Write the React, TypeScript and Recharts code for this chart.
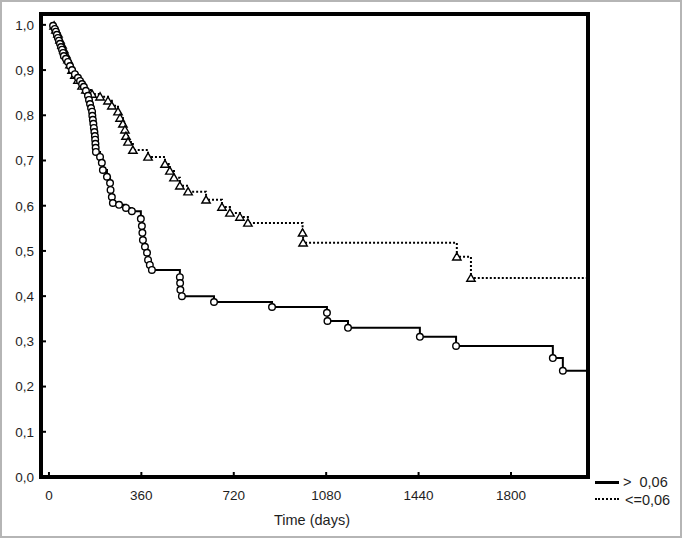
import React from 'react';
import { ComposedChart, Line, XAxis, YAxis, ReferenceArea } from 'recharts';

// group "> 0,06" (solid line, circles)
const highDays = [16, 23, 27, 31, 35, 39, 43, 47, 51, 55, 58, 66, 74, 82, 90, 101, 113, 121, 129, 136, 144, 152, 156, 160, 164, 168, 169, 171, 173, 175, 177, 179, 180, 181, 182, 183, 199, 206, 210, 226, 238, 240, 245, 249, 273, 300, 323, 358, 362, 364, 366, 374, 382, 386, 393, 401, 510, 511, 512, 518, 643, 869, 1083, 1085, 1165, 1445, 1586, 1963, 2002, 2100];
const highSurv = [0.998, 0.991, 0.985, 0.978, 0.971, 0.965, 0.958, 0.951, 0.945, 0.938, 0.931, 0.925, 0.918, 0.909, 0.9, 0.891, 0.883, 0.876, 0.869, 0.863, 0.854, 0.843, 0.834, 0.825, 0.816, 0.808, 0.799, 0.79, 0.781, 0.772, 0.763, 0.754, 0.746, 0.737, 0.728, 0.719, 0.708, 0.695, 0.679, 0.664, 0.65, 0.635, 0.619, 0.606, 0.602, 0.595, 0.588, 0.571, 0.555, 0.54, 0.524, 0.509, 0.496, 0.48, 0.469, 0.458, 0.442, 0.429, 0.414, 0.4, 0.387, 0.376, 0.363, 0.345, 0.33, 0.31, 0.29, 0.263, 0.235, 0.235];

// group "<=0,06" (dotted line, triangles)
const lowDays = [20, 27, 35, 43, 51, 58, 66, 74, 82, 90, 101, 113, 129, 144, 168, 199, 230, 245, 269, 277, 288, 296, 300, 308, 327, 386, 452, 471, 487, 510, 542, 612, 674, 705, 744, 775, 988, 990, 1589, 1644, 2100];
const lowSurv = [0.998, 0.989, 0.98, 0.967, 0.956, 0.945, 0.934, 0.923, 0.912, 0.9, 0.889, 0.878, 0.865, 0.856, 0.847, 0.841, 0.832, 0.821, 0.808, 0.794, 0.781, 0.768, 0.754, 0.741, 0.723, 0.708, 0.692, 0.677, 0.662, 0.644, 0.631, 0.613, 0.597, 0.584, 0.575, 0.562, 0.54, 0.518, 0.487, 0.44, 0.44];

const xTicks = [0, 360, 720, 1080, 1440, 1800];
const yTicks = [0, 0.1, 0.2, 0.3, 0.4, 0.5, 0.6, 0.7, 0.8, 0.9, 1.0];

const highData = highDays.map((d, i) => ({ day: d, s: highSurv[i] }));
const lowData = lowDays.map((d, i) => ({ day: d, s: lowSurv[i] }));

const font = '"Liberation Sans", Arial, sans-serif';
const ink = '#1e1e1e';

const fmtY = (v: number) => v.toFixed(1).replace('.', ',');

const YTick = (props: any) => {
  const { x, y, payload } = props;
  return (
    <g>
      <line x1={x + 9} y1={y} x2={x + 12} y2={y} stroke="#000" strokeWidth={2} />
      <text x={x} y={y} dy="0.36em" textAnchor="end" fontSize={13.5} fontFamily={font} fill={ink}>
        {fmtY(payload.value)}
      </text>
    </g>
  );
};

const XTick = (props: any) => {
  const { x, y, payload } = props;
  return (
    <g>
      <line x1={x} y1={y - 2} x2={x} y2={y - 5} stroke="#000" strokeWidth={2} />
      <text x={x} y={y + 23} textAnchor="middle" fontSize={13.5} fontFamily={font} fill={ink}>
        {payload.value}
      </text>
    </g>
  );
};

const CircleMark = (props: any) => {
  const { cx, cy, index } = props;
  if (cx == null || index === highData.length - 1) return <g key={`c${index}`} />;
  return <circle key={`c${index}`} cx={cx} cy={cy} r={3.3} fill="#fff" stroke="#000" strokeWidth={1.4} />;
};

const TriangleMark = (props: any) => {
  const { cx, cy, index } = props;
  if (cx == null || index === lowData.length - 1) return <g key={`t${index}`} />;
  const pts = `${cx},${cy - 4} ${cx - 4.2},${cy + 3.2} ${cx + 4.2},${cy + 3.2}`;
  return <polygon key={`t${index}`} points={pts} fill="#fff" stroke="#000" strokeWidth={1.4} />;
};

export default function App() {
  return (
    <div style={{ position: 'absolute', left: 0, top: 0, width: 682, height: 538, background: '#fff' }}>
      <ComposedChart width={682} height={538} margin={{ top: 14, right: 94, bottom: 31, left: 0 }}>
        <XAxis
          dataKey="day"
          type="number"
          domain={[-31, 2100]}
          ticks={xTicks}
          allowDataOverflow
          axisLine={false}
          tickLine={false}
          tickSize={0}
          tickMargin={0}
          height={30}
          tick={<XTick />}
        />
        <YAxis
          type="number"
          domain={[0, 1.024]}
          ticks={yTicks}
          allowDataOverflow
          axisLine={false}
          tickLine={false}
          tickSize={0}
          tickMargin={7}
          width={41}
          tick={<YTick />}
        />
        <Line
          data={lowData}
          dataKey="s"
          type="stepAfter"
          stroke="#000"
          strokeWidth={2}
          strokeDasharray="2 2"
          dot={TriangleMark}
          activeDot={false}
          isAnimationActive={false}
        />
        <Line
          data={highData}
          dataKey="s"
          type="stepAfter"
          stroke="#000"
          strokeWidth={2}
          dot={CircleMark}
          activeDot={false}
          isAnimationActive={false}
        />
        <ReferenceArea x1={-31} x2={2100} y1={0} y2={1.024} fill="none" stroke="#000" strokeWidth={4} ifOverflow="visible" />
      </ComposedChart>

      <div style={{ position: 'absolute', left: 232, width: 160, top: 512, textAlign: 'center', fontFamily: font, fontSize: 14.5, color: ink }}>
        Time (days)
      </div>

      <div style={{ position: 'absolute', left: 595, top: 481, width: 24, height: 3, background: '#000' }} />
      <div style={{ position: 'absolute', left: 623, top: 474, fontFamily: font, fontSize: 14.5, color: ink, whiteSpace: 'pre', lineHeight: '17px' }}>
        {'>  0,06'}
      </div>
      <div style={{ position: 'absolute', left: 595, top: 498, width: 24, height: 0, borderTop: '2px dotted #000' }} />
      <div style={{ position: 'absolute', left: 625, top: 492, fontFamily: font, fontSize: 14.5, color: ink, whiteSpace: 'pre', lineHeight: '17px' }}>
        {'<=0,06'}
      </div>

      <div style={{ position: 'absolute', left: 0, top: 0, width: 682, height: 538, boxSizing: 'border-box', border: '2px solid #b5b5b5', pointerEvents: 'none' }} />
    </div>
  );
}
